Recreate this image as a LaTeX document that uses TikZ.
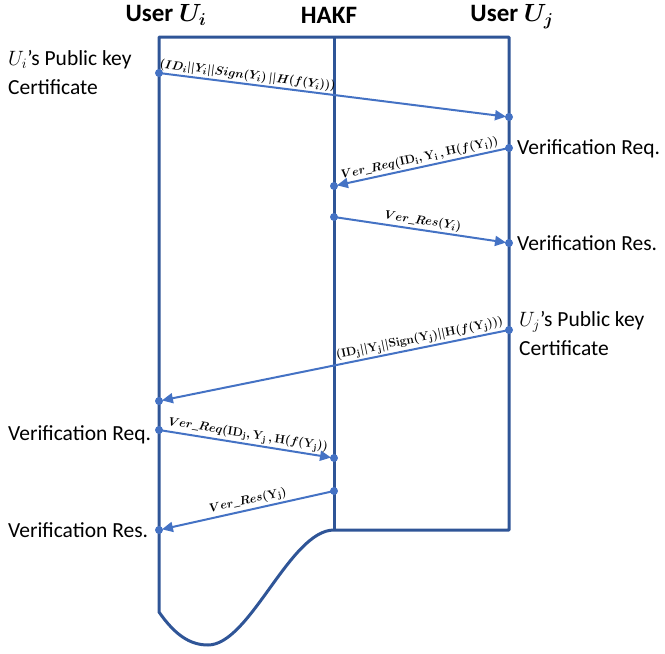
\documentclass[tikz,border=0pt]{standalone}
\usepackage{fontspec}
\setmainfont{Carlito}
\usepackage{amsmath}
\usetikzlibrary{arrows.meta}
\definecolor{lifeblue}{HTML}{2F5597}
\definecolor{msgblue}{HTML}{4472C4}

\begin{document}
\begin{tikzpicture}[
  x=1pt,y=-1pt,
  every node/.style={font=\fontsize{21.5}{29}\selectfont},
  lifeline/.style={draw=lifeblue,line width=3pt,line join=round},
  msg/.style={draw=msgblue,line width=2pt,-{Triangle[length=11pt,width=10pt]},shorten >=3pt},
  dot/.style={circle,fill=msgblue,inner sep=0pt,minimum size=8pt},
  msglabel/.style={font=\fontsize{12.5}{14}\selectfont\boldmath,sloped,above,inner sep=1.5pt},
  head/.style={font=\fontsize{25}{30}\selectfont\bfseries},
  side/.style={align=left,anchor=west,inner sep=0pt}
]
\useasboundingbox (0,0) rectangle (665,654);

% frame of the three parties
\coordinate (ui-top) at (159,37);
\coordinate (hakf-top) at (334,37);
\coordinate (uj-top) at (509,37);
\coordinate (ui-end) at (159,612);
\coordinate (hakf-end) at (334,530);
\coordinate (uj-end) at (509,530);
\draw[lifeline] (ui-end) -- (ui-top) -- (uj-top) -- (uj-end) -- (hakf-end)
  .. controls (290,530) and (250,645) .. (208,645)
  .. controls (190,645) and (175,635) .. (ui-end) -- cycle;
\draw[lifeline] (hakf-top) -- (hakf-end);

% headers
\node[head] (ui) at (166,15) {User $\boldsymbol{U_i}$};
\node[head] (hakf) at (329,15) {HAKF};
\node[head] (uj) at (512,17) {User $\boldsymbol{U_j}$};

% message end points
\node[dot] (a1) at (159,73) {};
\node[dot] (b1) at (509,117) {};
\node[dot] (b2) at (509,148) {};
\node[dot] (h2) at (334,186) {};
\node[dot] (h3) at (334,217) {};
\node[dot] (b3) at (509,243) {};
\node[dot] (b4) at (509,330) {};
\node[dot] (a4) at (159,401) {};
\node[dot] (a5) at (159,430) {};
\node[dot] (h5) at (334,458) {};
\node[dot] (h6) at (334,491) {};
\node[dot] (a6) at (159,530) {};

% messages
\draw[msg] (a1.center) -- node[msglabel,pos=0.25] {$(ID_i||Y_i||Sign(Y_i)\,||H(f(Y_i)))$} (b1.center);
\draw[msg] (b2.center) -- node[msglabel,pos=0.5] {$Ver\_Req(\mathbf{ID_i},\mathbf{Y_i}\,,\mathbf{H}(f(\mathbf{Y_i}))$} (h2.center);
\draw[msg] (h3.center) -- node[msglabel,pos=0.5] {$Ver\_Res(Y_i)$} (b3.center);
\draw[msg] (b4.center) -- node[msglabel,pos=0.25] {$(\mathbf{ID_j}||\mathbf{Y_j}||\mathbf{Sign}(\mathbf{Y_j})||\mathbf{H}(f(\mathbf{Y_j})))$} (a4.center);
\draw[msg] (a5.center) -- node[msglabel,pos=0.5] {$Ver\_Req(\mathbf{ID_j},\mathbf{Y_j}\,,\mathbf{H}(f(\mathbf{Y_j}))$} (h5.center);
\draw[msg] (h6.center) -- node[msglabel,pos=0.48] {$Ver\_Res(\mathbf{Y_j})$} (a6.center);

% side texts
\node[side] (cert-i) at (8,72) {$U_i$'s Public key\\Certificate};
\node[side] (req-j) at (517,149) {Verification Req.};
\node[side] (res-j) at (517,243) {Verification Res.};
\node[side] (cert-j) at (519,333) {$U_j$'s Public key\\Certificate};
\node[side] (req-i) at (8,435) {Verification Req.};
\node[side] (res-i) at (8,530) {Verification Res.};
\end{tikzpicture}
\end{document}
